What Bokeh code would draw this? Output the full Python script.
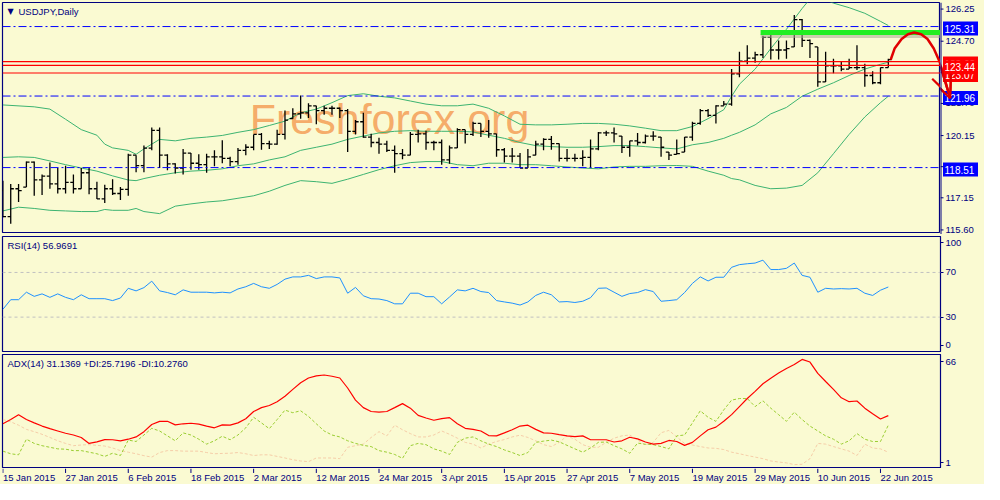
from bokeh.plotting import figure
from bokeh.layouts import column, row
from bokeh.models import (ColumnDataSource, LinearAxis, FixedTicker, Range1d, Label, Span)
from bokeh.embed import file_html
from bokeh.resources import INLINE
from bokeh.core.properties import value

# ---------------- data ----------------
opens = [117.40, 116.15, 117.49, 117.40, 118.77, 117.92, 118.10, 117.72, 117.49, 117.80,
         117.49, 118.26, 117.49, 117.00, 117.49, 117.26, 117.46, 119.11, 118.60, 119.45,
         120.30, 119.11, 118.69, 118.49, 119.21, 118.72, 118.65, 119.03, 119.03, 118.95,
         118.80, 119.34, 119.49, 120.11, 119.67, 119.64, 120.11, 120.80, 121.10, 121.15,
         121.49, 121.26, 121.37, 121.37, 121.26, 120.26, 120.72, 119.98, 119.72, 119.64,
         119.34, 119.18, 119.11, 120.11, 120.14, 119.72, 119.72, 118.88, 119.46, 120.34,
         120.11, 120.64, 120.26, 120.14, 119.37, 119.06, 119.06, 118.49, 119.03, 119.64,
         119.87, 119.67, 118.95, 118.95, 118.95, 119.00, 119.41, 120.18, 120.18, 120.14,
         119.49, 119.80, 119.72, 120.03, 120.03, 119.49, 119.11, 119.18, 119.98, 120.64,
         121.26, 121.03, 121.49, 121.57, 123.03, 123.64, 123.79, 123.95, 124.79, 124.18,
         124.18, 124.25, 125.64, 124.64, 124.49, 122.64, 123.41, 123.41, 123.26, 123.33,
         123.33, 122.95, 122.60, 123.33]
highs = [117.88, 117.72, 117.72, 118.80, 118.80, 118.18, 118.75, 118.49, 118.60, 118.18,
         118.49, 118.49, 117.83, 117.68, 117.95, 117.57, 119.18, 119.11, 119.57, 120.44,
         120.44, 119.15, 118.72, 119.41, 119.21, 119.15, 119.18, 119.34, 119.83, 119.03,
         119.46, 119.64, 120.11, 120.18, 119.80, 120.34, 121.26, 121.37, 121.98, 121.61,
         121.49, 121.49, 121.49, 121.41, 121.33, 120.80, 121.15, 120.14, 119.95, 119.80,
         119.57, 119.41, 120.23, 120.34, 120.29, 119.80, 119.87, 119.57, 120.41, 120.34,
         120.72, 120.64, 120.80, 120.14, 119.46, 119.46, 119.21, 119.41, 119.80, 119.92,
         120.03, 119.67, 119.41, 119.18, 119.34, 119.87, 120.23, 120.29, 120.44, 120.03,
         119.80, 120.18, 120.11, 120.26, 119.98, 119.26, 119.87, 119.98, 120.72, 121.33,
         121.33, 121.52, 121.72, 123.26, 124.10, 124.41, 124.10, 124.87, 125.05, 124.64,
         124.64, 125.87, 125.67, 124.69, 124.33, 124.10, 123.76, 123.64, 123.76, 124.41,
         123.52, 123.15, 123.33, 123.76]
lows = [116.11, 115.80, 116.85, 117.57, 117.15, 117.19, 117.49, 117.26, 117.26, 117.26,
        117.49, 117.23, 117.00, 116.80, 117.19, 116.95, 117.15, 118.29, 118.29, 119.34,
        118.49, 118.38, 118.23, 118.18, 118.41, 118.41, 118.26, 118.57, 118.72, 118.57,
        118.65, 119.11, 119.34, 119.37, 119.41, 119.61, 119.87, 120.87, 120.87, 120.90,
        120.60, 121.06, 121.06, 120.90, 119.26, 120.11, 119.95, 119.49, 119.18, 119.26,
        118.26, 118.91, 119.11, 119.72, 119.37, 119.34, 118.65, 118.69, 119.46, 119.67,
        120.03, 119.98, 119.95, 119.03, 118.75, 118.75, 118.49, 118.49, 119.11, 119.34,
        119.37, 118.80, 118.80, 118.80, 118.57, 118.49, 119.34, 120.03, 119.72, 119.21,
        119.03, 119.57, 119.67, 119.80, 119.03, 118.88, 119.15, 119.26, 119.80, 120.57,
        120.95, 120.64, 121.49, 121.49, 122.87, 123.49, 123.56, 123.79, 123.72, 123.72,
        123.76, 124.33, 124.33, 123.79, 122.41, 122.64, 123.06, 123.15, 123.26, 123.21,
        122.41, 122.53, 122.53, 123.33]
closes = [116.15, 117.49, 117.40, 118.77, 117.92, 118.10, 117.72, 117.49, 117.80, 117.49,
          118.26, 117.49, 117.00, 117.49, 117.26, 117.46, 119.11, 118.60, 119.45, 120.30,
          119.11, 118.69, 118.49, 119.21, 118.72, 118.65, 119.03, 119.03, 118.95, 118.80,
          119.34, 119.49, 120.11, 119.67, 119.64, 120.11, 120.80, 121.10, 121.15, 121.49,
          121.26, 121.37, 121.37, 121.26, 120.26, 120.72, 119.98, 119.72, 119.64, 119.34,
          119.18, 119.11, 120.11, 120.14, 119.72, 119.72, 118.88, 119.46, 120.34, 120.11,
          120.64, 120.26, 120.14, 119.37, 119.06, 119.06, 118.49, 119.03, 119.64, 119.87,
          119.67, 118.95, 118.95, 118.95, 119.00, 119.41, 120.18, 120.18, 120.14, 119.49,
          119.80, 119.72, 120.03, 120.03, 119.49, 119.11, 119.18, 119.98, 120.64, 121.26,
          121.03, 121.49, 121.57, 123.03, 123.64, 123.79, 123.95, 124.79, 124.18, 124.18,
          124.25, 125.64, 124.64, 124.49, 122.64, 123.41, 123.41, 123.26, 123.33, 123.33,
          122.95, 122.60, 123.33, 123.72]

bb_upper_idx = [0, 4, 6, 8, 10, 12, 13, 14, 16, 17, 18,
                20, 22, 24, 26, 28, 30, 32, 34, 36, 38, 40, 42, 44, 46, 48, 50, 52, 54, 56,
                58, 60, 62, 64, 66, 68, 70, 72, 74, 76, 78, 80, 82, 84, 86, 88, 90, 92,
                93, 94, 96, 98, 100, 102, 103, 104, 105, 106, 108, 110, 112, 113]
bb_upper = [121.53, 121.44, 121.33, 120.84, 120.34, 120.07, 119.64, 119.46, 119.34, 119.15, 119.41,
            119.87, 119.80, 119.92, 119.98, 120.06, 120.21, 120.34, 120.54, 120.75, 121.15, 121.33,
            121.64, 121.98, 122.07, 121.95, 121.87, 121.72, 121.57, 121.49, 121.49, 121.57, 121.37,
            121.00, 120.60, 120.57, 120.57, 120.60, 120.64, 120.64, 120.60, 120.52, 120.41, 120.29,
            120.29, 120.49, 120.87, 121.30,
            121.95, 122.53, 123.26, 124.25, 125.18, 126.18, 126.64, 126.71, 126.59, 126.44,
            126.22, 125.95, 125.56, 125.36]
bb_mid_idx = [0, 2, 4, 6, 8, 10, 12, 14, 16, 17, 18,
              20, 22, 24, 26, 28, 30, 32, 34, 36, 38, 40, 42, 44, 46, 48, 50, 52, 54, 56,
              58, 60, 62, 64, 66, 68, 70, 72, 74, 76, 78, 80, 82, 84, 86, 88, 90, 92,
              93, 94, 96, 98, 100, 102, 104, 106, 108, 110, 112, 113]
bb_mid = [119.00, 119.03, 119.00, 118.83, 118.65, 118.49, 118.34, 118.11, 117.91, 117.88, 117.98,
          118.14, 118.26, 118.34, 118.38, 118.45, 118.60, 118.69, 118.88, 119.03, 119.34, 119.49,
          119.64, 119.87, 120.03, 120.18, 120.26, 120.29, 120.26, 120.26, 120.26, 120.23, 120.07,
          119.92, 119.72, 119.57, 119.52, 119.49, 119.49, 119.52, 119.57, 119.57, 119.52, 119.46,
          119.41, 119.61, 119.72, 119.92,
          120.07, 120.21, 120.57, 121.10, 121.41, 121.95, 122.29, 122.60, 122.95, 123.26, 123.49,
          123.59]
bb_low_idx = [0, 2, 4, 6, 8, 10, 12, 13, 14, 16, 17, 18,
              20, 22, 24, 26, 28, 30, 32, 34, 36, 38, 40, 42, 44, 46, 48, 50, 52, 54, 56,
              58, 60, 62, 64, 66, 68, 70, 72, 74, 76, 78, 80, 82, 84, 86, 88, 90, 92,
              93, 94, 96, 98, 100, 102, 104, 106, 108, 110, 112, 113]
bb_low = [116.42, 116.60, 116.54, 116.45, 116.42, 116.39, 116.39, 116.49, 116.45, 116.45, 116.54, 116.39,
          116.29, 116.65, 116.76, 116.85, 116.91, 117.03, 117.15, 117.37, 117.65, 117.88, 117.83,
          117.75, 117.95, 118.18, 118.41, 118.60, 118.75, 118.80, 118.80, 118.65, 118.60, 118.72,
          118.72, 118.65, 118.65, 118.60, 118.54, 118.49, 118.45, 118.54, 118.57, 118.57, 118.60,
          118.61, 118.57, 118.34, 118.14,
          117.98, 117.92, 117.65, 117.49, 117.52, 117.65, 118.26, 119.18, 120.11, 120.95, 121.64,
          121.95]

rsi = [37.0, 45.6, 45.6, 52.3, 48.6, 50.8, 47.7, 50.8, 47.7, 45.6,
       50.0, 46.5, 46.5, 46.5, 44.8, 47.1, 55.8, 53.5, 56.4, 62.2,
       53.5, 52.0, 50.0, 54.4, 52.3, 52.3, 52.3, 51.7, 52.3, 51.7,
       55.2, 57.2, 60.2, 57.2, 55.8, 59.3, 64.0, 66.0, 66.0, 67.4,
       64.5, 66.0, 66.0, 65.1, 51.4, 56.6, 49.1, 46.5, 46.2, 44.8,
       41.9, 41.9, 51.4, 51.4, 48.3, 48.3, 41.9, 48.0, 54.4, 53.5,
       55.8, 52.9, 52.0, 44.8, 43.6, 42.5, 40.8, 43.6, 49.4, 52.3,
       50.0, 43.6, 43.9, 43.1, 44.2, 47.4, 55.8, 56.1, 52.3, 48.6,
       51.1, 52.0, 54.6, 52.9, 44.2, 44.8, 45.6, 52.0, 60.2, 66.0,
       62.4, 65.7, 65.7, 74.6, 77.0, 77.8, 78.4, 81.0, 72.6, 72.6,
       73.7, 78.4, 67.4, 65.7, 52.3, 55.8, 55.2, 55.5, 55.2, 55.8,
       51.4, 49.4, 54.1, 56.97]
adx = [26.5, 28.9, 31.7, 28.9, 27.0, 25.2, 23.7, 22.4, 21.1, 20.1,
       18.7, 15.3, 16.2, 17.5, 17.4, 16.8, 17.7, 19.0, 22.0, 26.1,
       27.9, 27.9, 25.9, 26.5, 26.8, 26.3, 25.2, 24.2, 25.9, 25.7,
       27.0, 29.4, 33.5, 35.7, 36.9, 39.1, 42.2, 46.1, 49.9, 52.6,
       53.8, 54.3, 53.6, 52.6, 46.9, 40.0, 35.7, 33.5, 33.1, 33.5,
       35.7, 38.0, 35.4, 31.3, 29.8, 28.5, 29.4, 30.0, 26.5, 23.9,
       23.3, 22.4, 19.8, 19.6, 21.3, 23.1, 25.2, 25.7, 23.3, 21.3,
       21.1, 20.3, 19.6, 19.2, 19.6, 17.4, 17.4, 17.4, 16.1, 16.8,
       18.8, 17.9, 16.1, 14.9, 15.3, 17.0, 16.4, 14.2, 15.9, 19.6,
       23.1, 24.6, 27.9, 31.7, 36.3, 40.9, 45.0, 49.3, 52.5, 55.4,
       58.0, 60.3, 63.2, 61.7, 55.2, 50.6, 46.1, 41.3, 39.1, 39.5,
       35.4, 32.2, 29.2, 31.14]
plus_di = [10.9, 9.4, 8.8, 17.7, 15.3, 14.0, 13.1, 12.2, 12.0, 11.2,
           11.2, 10.3, 9.4, 7.9, 9.7, 8.4, 17.2, 16.4, 20.1, 23.9,
           22.4, 19.6, 16.8, 21.3, 20.1, 17.7, 14.9, 16.8, 19.4, 17.4,
           20.1, 24.2, 30.2, 27.0, 23.7, 28.9, 34.3, 32.8, 33.9, 30.7,
           26.5, 22.4, 20.1, 19.0, 16.8, 15.3, 14.2, 13.5, 11.2, 10.3,
           9.0, 6.8, 14.0, 15.3, 14.6, 12.2, 10.9, 9.0, 15.9, 18.3,
           19.0, 16.8, 14.9, 13.5, 11.6, 10.1, 8.4, 10.1, 15.9, 16.6,
           17.2, 16.2, 14.2, 12.2, 10.3, 12.7, 15.9, 16.1, 14.0, 12.2,
           9.7, 15.5, 14.8, 14.6, 13.5, 12.2, 19.6, 20.1, 27.0, 33.9,
           30.2, 27.9, 34.4, 40.0, 40.9, 40.9, 36.3, 39.6, 35.4, 31.7,
           27.9, 33.1, 28.9, 25.2, 22.4, 19.6, 17.7, 14.9, 16.8, 20.9,
           17.7, 16.4, 16.4, 25.72]
minus_di = [28.9, 27.6, 25.7, 23.3, 22.0, 20.5, 18.7, 16.8, 15.3, 14.0,
            14.4, 14.6, 14.2, 13.8, 12.7, 11.2, 10.3, 9.4, 8.3, 7.5,
            10.1, 11.2, 11.2, 10.9, 10.9, 10.9, 10.1, 9.4, 9.6, 9.7,
            10.1, 9.4, 8.4, 8.8, 8.8, 7.9, 7.0, 6.0, 5.3, 4.9,
            7.0, 7.0, 7.0, 6.6, 13.1, 14.0, 14.9, 18.7, 22.0, 19.6,
            25.7, 23.1, 20.9, 19.0, 19.0, 20.1, 22.4, 20.5, 18.3, 15.9,
            14.9, 12.7, 14.9, 16.4, 17.5, 19.0, 20.0, 18.7, 16.8, 14.6,
            13.5, 15.9, 19.6, 17.7, 14.6, 13.1, 13.1, 15.9, 18.3, 19.6,
            20.1, 17.2, 14.4, 15.9, 21.4, 22.7, 19.0, 15.3, 14.4, 13.5,
            12.7, 12.5, 11.8, 10.3, 9.4, 8.4, 7.5, 6.6, 5.3, 4.7,
            4.2, 3.2, 3.4, 6.6, 15.3, 14.9, 13.5, 12.2, 10.9, 8.4,
            14.9, 12.7, 12.2, 10.28]

date_ticks = [0, 8, 16, 24, 32, 40, 48, 56, 64, 72, 80, 88, 96, 104, 112]
date_labels = ["15 Jan 2015", "27 Jan 2015", "6 Feb 2015", "18 Feb 2015", "2 Mar 2015",
               "12 Mar 2015", "24 Mar 2015", "3 Apr 2015", "15 Apr 2015", "27 Apr 2015",
               "7 May 2015", "19 May 2015", "29 May 2015", "10 Jun 2015", "22 Jun 2015"]
price_ticks = [115.60, 117.15, 118.65, 120.15, 121.70, 123.20, 124.70, 126.25]
blue_levels = [125.31, 121.96, 118.51]
red_levels = [123.62, 123.07, 123.44]
green_level = 125.02
green_start = 96.7
green_end = 120.5
curve_x = [113.3, 113.8, 114.7, 115.5, 116.3, 117.2, 118.0, 118.8, 119.7, 120.3, 120.9]
curve_y = [123.71, 124.25, 124.71, 124.94, 125.02, 124.94, 124.71, 124.25, 123.48, 122.72, 121.95]
head_x = [118.6, 121.0]
head_y = [122.79, 123.14]

# ---------------- styling ----------------
BG = "#FAFAD2"
NAVY = "#000080"
FONT = "Liberation Sans"
FS = "9.5px"
FW = 938          # frame width of every panel
SIDE = 44         # width of the price-scale column
X0, X1 = -0.05, 119.66
XPX = FW / (X1 - X0)   # pixels per bar
xr = Range1d(X0, X1)


def base_fig(fh, yr, top, bottom, right=SIDE, outline=NAVY, x_range=xr, fw=FW, left=2):
    f = figure(frame_width=fw, frame_height=fh, x_range=x_range, y_range=yr,
               output_backend="svg", toolbar_location=None,
               x_axis_location=None, y_axis_location=None,
               min_border_left=left, min_border_right=right,
               min_border_top=top, min_border_bottom=bottom,
               background_fill_color=BG, border_fill_color=BG,
               outline_line_color=outline, outline_line_width=1.2)
    f.grid.visible = False
    return f


def right_axis(f, ticks, overrides):
    ax = LinearAxis(ticker=FixedTicker(ticks=ticks, minor_ticks=[]),
                    axis_line_color=NAVY, axis_line_width=1,
                    major_tick_line_color=NAVY, major_tick_in=0, major_tick_out=3,
                    minor_tick_line_color=None,
                    major_label_text_color=NAVY, major_label_text_font=FONT,
                    major_label_text_font_size=FS, major_label_standoff=2,
                    major_label_overrides=overrides)
    f.add_layout(ax, "right")


# ---------------- main price panel ----------------
MH = 230
PTOP, PBOT = 126.47, 115.38
p = base_fig(MH, Range1d(PBOT, PTOP), 2, 2, right=0)

p.add_layout(Label(x=31.5, y=120.87, text="Freshforex.org", text_font=FONT,
                   text_font_size="43px", text_color="#F5A25C", text_alpha=0.9,
                   text_baseline="alphabetic", level="underlay"))

n = len(closes)
idx = list(range(n))
o_draw = [min(max(o, l), h) for o, l, h in zip(opens, lows, highs)]
src = ColumnDataSource(dict(x=idx, h=highs, l=lows, o=o_draw, c=closes,
                            xl=[i - 0.4 for i in idx], xr=[i + 0.4 for i in idx]))

GREEN_BB = "#3CB371"
p.line(bb_upper_idx, bb_upper, line_color=GREEN_BB, line_width=1)
p.line(bb_mid_idx, bb_mid, line_color=GREEN_BB, line_width=1)
p.line(bb_low_idx, bb_low, line_color=GREEN_BB, line_width=1)

p.segment(x0="x", y0="l", x1="x", y1="h", source=src, line_color="black", line_width=1.3)
p.segment(x0="xl", y0="o", x1="x", y1="o", source=src, line_color="black", line_width=1.3)
p.segment(x0="x", y0="c", x1="xr", y1="c", source=src, line_color="black", line_width=1.3)

for lv in blue_levels:
    p.add_layout(Span(location=lv, dimension="width", line_color="#0000FF",
                      line_width=1, line_dash="8 3 2 3"))
for lv in red_levels:
    p.add_layout(Span(location=lv, dimension="width", line_color="#FF0000", line_width=1.2))

# green level line with soft shadow
p.line([green_start, green_end], [green_level - 0.17, green_level - 0.17],
       line_color="#A8A890", line_alpha=0.55, line_width=4)
p.line([green_start, green_end], [green_level, green_level],
       line_color="#22EE22", line_width=5)

RED_A = "#E00000"


def draw_arrow(f):
    f.line(curve_x, curve_y, line_color=RED_A, line_width=2.5, line_join="round")
    for hx, hy in zip(head_x, head_y):
        f.line([hx, curve_x[-1]], [hy, curve_y[-1]], line_color=RED_A, line_width=2.2)


draw_arrow(p)

p.add_layout(Label(x=5, y=MH - 9, x_units="screen", y_units="screen", text="▼",
                   text_font="DejaVu Sans", text_font_size="8px", text_color=NAVY,
                   text_baseline="middle"))
p.add_layout(Label(x=16, y=MH - 9, x_units="screen", y_units="screen", text="USDJPY,Daily",
                   text_font=FONT, text_font_size=FS, text_color=NAVY, text_baseline="middle"))

# ---------------- price scale column (right of the main panel) ----------------
PPX = (PTOP - PBOT) / MH
s = base_fig(MH + 4, Range1d(PBOT - 2 * PPX, PTOP + 2 * PPX), 0, 0, right=0, left=0,
             outline=None, x_range=Range1d(X1, X1 + SIDE / XPX), fw=SIDE)
s.add_layout(Span(location=X1, dimension="height", line_color=NAVY, line_width=2))
s.segment(x0=[X1] * len(price_ticks), y0=price_ticks, x1=[X1 + 3 / XPX] * len(price_ticks),
          y1=price_ticks, line_color=NAVY, line_width=1)
s.text(x=[X1 + 5 / XPX] * len(price_ticks), y=price_ticks,
       text=[f"{t:.2f}" for t in price_ticks], text_font=value(FONT), text_font_size=FS,
       text_color=NAVY, text_align="left", text_baseline="middle")
draw_arrow(s)
for lv, col in [(125.31, "#0000FF"), (121.96, "#0000FF"), (118.51, "#0000FF"),
                (123.62, "#FF0000"), (123.07, "#FF0000"), (123.44, "#FF0000")]:
    s.rect(x=[X1 + 20 / XPX], y=[lv], width=35, height=14, width_units="screen",
           height_units="screen", fill_color=col, line_color=None)
    s.text(x=[X1 + 4 / XPX], y=[lv], text=[f"{lv:.2f}"], text_font=value(FONT),
           text_font_size="10px", text_color="white", text_align="left",
           text_baseline="middle")
# the red arrow tip runs over the boxes
s.line(curve_x[-3:], curve_y[-3:], line_color=RED_A, line_width=2.5)
for hx, hy in zip(head_x, head_y):
    s.line([hx, curve_x[-1]], [hy, curve_y[-1]], line_color=RED_A, line_width=2.2)

# ---------------- RSI panel ----------------
RH = 115
r = base_fig(RH, Range1d(-0.8, 102.2), 2, 1)
right_axis(r, [5.0, 30, 70, 96.4], {5.0: "0", 30: "30", 70: "70", 96.4: "100"})
for lv in [30, 70]:
    r.add_layout(Span(location=lv, dimension="width", line_color="#C0C0C0",
                      line_width=1, line_dash="3 3"))
r.line(idx, rsi, line_color="#1E90FF", line_width=1)
r.add_layout(Label(x=5, y=RH - 9, x_units="screen", y_units="screen",
                   text="RSI(14) 56.9691", text_font=FONT, text_font_size=FS,
                   text_color=NAVY, text_baseline="middle"))

# ---------------- ADX panel ----------------
AH = 114
a = base_fig(AH, Range1d(1, 66), 2, 0)
right_axis(a, [4.4, 62.0], {4.4: "1", 62.0: "66"})
a.line(idx, minus_di, line_color="#F5CDA8", line_width=1, line_dash="3 2")
a.line(idx, plus_di, line_color="#9ACD32", line_width=1, line_dash="3 2")
a.line(idx, adx, line_color="#FF0000", line_width=1.2)
a.add_layout(Label(x=5, y=AH - 9, x_units="screen", y_units="screen",
                   text="ADX(14) 31.1369 +DI:25.7196 -DI:10.2760", text_font=FONT,
                   text_font_size=FS, text_color=NAVY, text_baseline="middle"))

# ---------------- date axis strip ----------------
d = base_fig(16, Range1d(0, 1), 0, 0, outline=None)
d.segment(x0=date_ticks, y0=[1] * len(date_ticks), x1=date_ticks, y1=[0.72] * len(date_ticks),
          line_color=NAVY, line_width=1)
d.text(x=date_ticks, y=[0.42] * len(date_ticks), text=date_labels, text_font=value(FONT),
       text_font_size=FS, text_color=NAVY, text_align="left", text_baseline="middle")

layout = column(row(p, s, spacing=0), r, a, d, spacing=0, background=BG)
open("out.html", "w").write(file_html(layout, INLINE))
